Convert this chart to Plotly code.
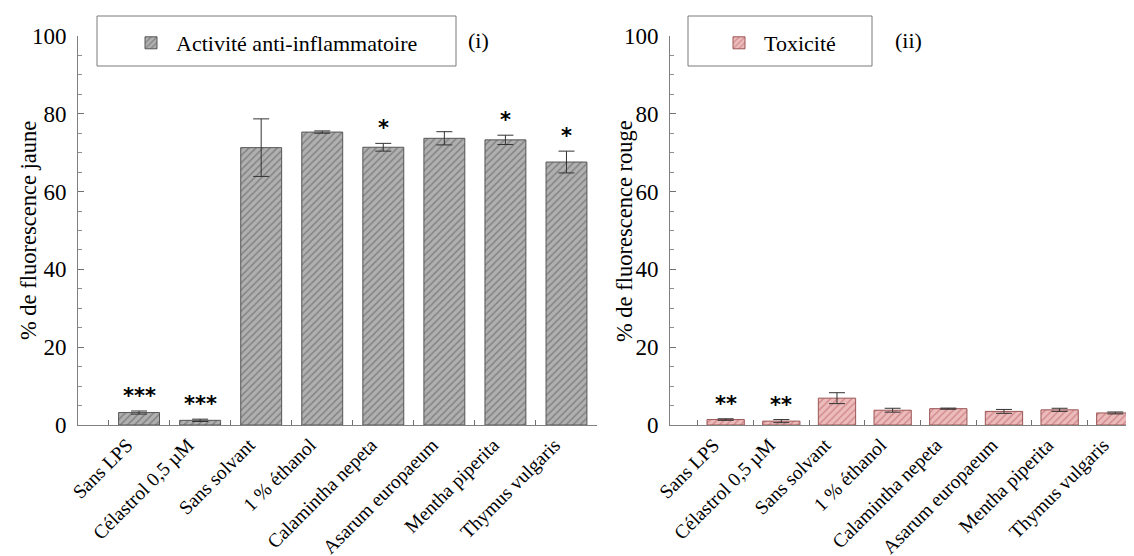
import plotly.graph_objects as go

categories = ["Sans LPS", "Célastrol 0,5 µM", "Sans solvant", "1 % éthanol",
              "Calamintha nepeta", "Asarum europaeum", "Mentha piperita", "Thymus vulgaris"]

anti_inflam = [3.2, 1.2, 71.3, 75.3, 71.4, 73.7, 73.3, 67.6]
anti_inflam_err = [0.4, 0.3, 7.4, 0.3, 1.0, 1.7, 1.2, 2.8]
anti_inflam_stars = ["***", "***", "", "", "*", "", "*", "*"]

toxicite = [1.4, 1.0, 6.9, 3.8, 4.2, 3.5, 3.9, 3.1]
toxicite_err = [0.2, 0.4, 1.4, 0.5, 0.15, 0.5, 0.4, 0.25]
toxicite_stars = ["**", "**", "", "", "", "", "", ""]

y_ticks = [0, 20, 40, 60, 80, 100]

FONT = "Liberation Serif"
W, H = 1134, 556

def px_x(p):
    return p / W

def px_y(p):
    return 1 - p / H

fig = go.Figure()

fig.add_trace(go.Bar(
    x=categories, y=anti_inflam, name="Activité anti-inflammatoire",
    xaxis="x", yaxis="y", legend="legend",
    marker=dict(color="#ababab", line=dict(color="#555555", width=1),
                pattern=dict(shape="/", fgcolor="#555555", bgcolor="#b0b0b0",
                             size=5, solidity=0.3)),
    error_y=dict(type="data", array=anti_inflam_err, color="#333333",
                 thickness=1, width=8),
))

fig.add_trace(go.Bar(
    x=categories, y=toxicite, name="Toxicité",
    xaxis="x2", yaxis="y2", legend="legend2",
    marker=dict(color="#e9b3b3", line=dict(color="#9c5555", width=1),
                pattern=dict(shape="/", fgcolor="#bb5c60", bgcolor="#ecbcbc",
                             size=5, solidity=0.3)),
    error_y=dict(type="data", array=toxicite_err, color="#333333",
                 thickness=1, width=8),
))

annotations = []
star_font = dict(family="DejaVu Sans", size=21, color="black")
for cat, v, e, s in zip(categories, anti_inflam, anti_inflam_err, anti_inflam_stars):
    if s:
        annotations.append(dict(x=cat, y=v + e, xref="x", yref="y", text="<b>" + s + "</b>",
                                showarrow=False, yanchor="bottom", yshift=1,
                                font=star_font))
for cat, v, e, s in zip(categories, toxicite, toxicite_err, toxicite_stars):
    if s:
        annotations.append(dict(x=cat, y=v + e, xref="x2", yref="y2", text="<b>" + s + "</b>",
                                showarrow=False, yanchor="bottom", yshift=1,
                                font=star_font))

annotations.append(dict(x=px_x(470), y=px_y(33), xref="paper", yref="paper", text="(i)",
                        showarrow=False, xanchor="center", yanchor="middle",
                        font=dict(family=FONT, size=22, color="black")))
annotations.append(dict(x=px_x(900), y=px_y(33), xref="paper", yref="paper", text="(ii)",
                        showarrow=False, xanchor="center", yanchor="middle",
                        font=dict(family=FONT, size=22, color="black")))

# y-axis titles
annotations.append(dict(x=px_x(21), y=px_y(223), xref="paper", yref="paper",
                        text="% de fluorescence jaune", textangle=-90,
                        showarrow=False, xanchor="center", yanchor="middle",
                        font=dict(family=FONT, size=22.5, color="black")))
annotations.append(dict(x=px_x(617), y=px_y(223), xref="paper", yref="paper",
                        text="% de fluorescence rouge", textangle=-90,
                        showarrow=False, xanchor="center", yanchor="middle",
                        font=dict(family=FONT, size=22.5, color="black")))

shapes = [
    dict(type="rect", xref="paper", yref="paper", x0=px_x(89), x1=px_x(448),
         y0=px_y(58), y1=px_y(8), line=dict(color="#7a7a7a", width=1)),
    dict(type="rect", xref="paper", yref="paper", x0=px_x(680), x1=px_x(864),
         y0=px_y(58), y1=px_y(8), line=dict(color="#7a7a7a", width=1)),
]

xaxis_common = dict(
    type="category", tickson="boundaries", ticks="inside", ticklen=5,
    tickcolor="#707070", showline=True, linecolor="#808080", linewidth=1,
    tickangle=-45, tickfont=dict(family=FONT, size=19.5, color="black"),
    ticklabelshift=-12,
    showgrid=False, zeroline=False, automargin=False, fixedrange=True,
)
yaxis_common = dict(
    range=[0, 100], tickvals=y_ticks, ticks="inside", ticklen=6,
    tickcolor="#707070", showline=True, linecolor="#808080", linewidth=1,
    minor=dict(dtick=5, ticks="inside", ticklen=4, tickcolor="#909090"),
    tickfont=dict(family=FONT, size=23, color="black"),
    ticklabelstandoff=6,
    showgrid=False, zeroline=False, automargin=False,
    domain=[1 - 417 / H, 1 - 28 / H],
)

fig.update_layout(
    width=W, height=H,
    margin=dict(l=0, r=0, t=0, b=0),
    paper_bgcolor="white", plot_bgcolor="white",
    bargap=0.33,
    font=dict(family=FONT, color="black"),
    xaxis=dict(xaxis_common, domain=[px_x(70), px_x(589)], range=[-1, 7.5], anchor="y"),
    yaxis=dict(yaxis_common, anchor="x"),
    xaxis2=dict(xaxis_common, domain=[px_x(662), 1.0], range=[-1, 7.48], anchor="y2"),
    yaxis2=dict(yaxis_common, anchor="x2"),
    legend=dict(x=px_x(118), y=px_y(14), xanchor="left", yanchor="top",
                bgcolor="rgba(0,0,0,0)", borderwidth=0, itemwidth=40,
                font=dict(family=FONT, size=22, color="black")),
    legend2=dict(x=px_x(706), y=px_y(14), xanchor="left", yanchor="top",
                 bgcolor="rgba(0,0,0,0)", borderwidth=0, itemwidth=40,
                 font=dict(family=FONT, size=22, color="black")),
    annotations=annotations,
    shapes=shapes,
    showlegend=True,
)

fig.write_html("out.html")
